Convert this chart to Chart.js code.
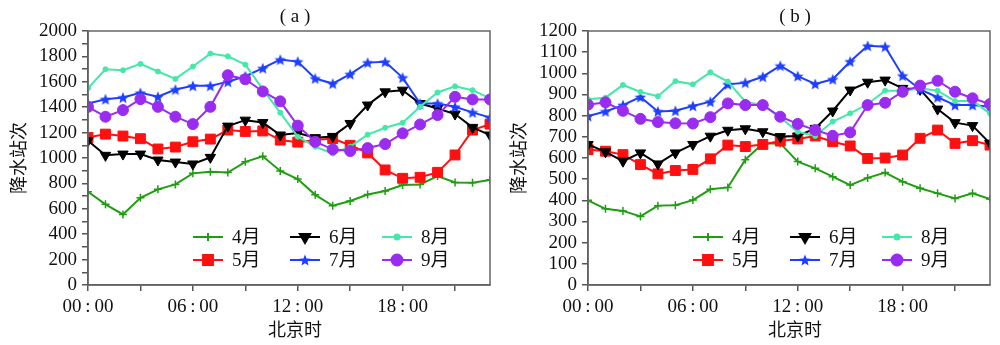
<!DOCTYPE html>
<html>
<head>
<meta charset="utf-8">
<script src="https://cdn.jsdelivr.net/npm/chart.js@4.4.0/dist/chart.umd.min.js"></script>
<style>
    html, body { margin: 0; padding: 0; background: #fff; }
    #wrap { width: 1000px; height: 345px; display: flex; }
    canvas { display: block; }
</style>
</head>
<body>
<div id="wrap">
    <canvas id="chartA" width="500" height="345"></canvas>
    <canvas id="chartB" width="500" height="345"></canvas>
</div>
<script>
// Hours of the day (Beijing time) and the tick labels shown on the x axis
const hours = [0, 1, 2, 3, 4, 5, 6, 7, 8, 9, 10, 11, 12, 13, 14, 15, 16, 17, 18, 19, 20, 21, 22, 23];
const xTickLabels = ['00\u2009:\u200900', '06\u2009:\u200900', '12\u2009:\u200900', '18\u2009:\u200900'];
const monthNames = ['4月', '5月', '6月', '7月', '8月', '9月'];

// Panel (a)
const a_apr = [734, 635, 556, 687, 753, 792, 879, 892, 885, 970, 1013, 898, 834, 710, 624, 661, 713, 740, 787, 792, 858, 808, 805, 826];
const a_may = [1162, 1188, 1173, 1152, 1071, 1086, 1128, 1149, 1220, 1209, 1213, 1141, 1125, 1142, 1153, 1100, 1040, 906, 840, 848, 887, 1024, 1220, 1267];
const a_jun = [1136, 1021, 1031, 1031, 984, 968, 953, 1005, 1251, 1298, 1279, 1181, 1197, 1160, 1170, 1272, 1417, 1521, 1534, 1429, 1390, 1346, 1241, 1181];
const a_jul = [1429, 1463, 1476, 1513, 1482, 1539, 1568, 1568, 1600, 1644, 1707, 1775, 1759, 1626, 1586, 1660, 1751, 1757, 1633, 1429, 1429, 1403, 1359, 1319];
const a_aug = [1550, 1699, 1691, 1741, 1681, 1623, 1720, 1822, 1801, 1735, 1540, 1357, 1168, 1089, 1035, 1089, 1184, 1238, 1277, 1403, 1516, 1565, 1534, 1469];
const a_sep = [1403, 1325, 1377, 1463, 1403, 1325, 1267, 1403, 1652, 1620, 1524, 1446, 1255, 1128, 1068, 1055, 1078, 1110, 1194, 1264, 1338, 1482, 1461, 1461];

// Panel (b)
const b_apr = [400, 360, 350, 324, 375, 377, 401, 452, 461, 592, 668, 669, 583, 551, 512, 472, 506, 531, 488, 457, 433, 409, 433, 406];
const b_may = [640, 632, 616, 569, 525, 541, 546, 596, 661, 654, 664, 680, 690, 704, 677, 657, 598, 600, 614, 693, 732, 669, 682, 661];
const b_jun = [664, 629, 585, 624, 572, 624, 664, 703, 731, 738, 724, 701, 704, 740, 822, 921, 958, 968, 929, 924, 831, 767, 753, 669];
const b_jul = [798, 820, 850, 888, 820, 823, 846, 866, 948, 956, 984, 1036, 987, 950, 972, 1056, 1130, 1126, 989, 924, 887, 850, 850, 842];
const b_aug = [877, 885, 945, 912, 892, 963, 948, 1005, 961, 866, 850, 792, 724, 704, 772, 811, 855, 918, 918, 929, 918, 869, 869, 811];
const b_sep = [852, 863, 823, 785, 770, 764, 763, 793, 858, 850, 850, 795, 761, 732, 705, 721, 850, 861, 913, 942, 965, 913, 882, 855];

// Filled five-point star used as the July marker
function makeStar(color, size) {
    const c = document.createElement('canvas');
    c.width = size;
    c.height = size;
    const g = c.getContext('2d');
    const r = size / 2, ri = r * 0.45;
    g.beginPath();
    for (let k = 0; k < 10; k++) {
        const rad = k % 2 === 0 ? r : ri;
        const ang = -Math.PI / 2 + k * Math.PI / 5;
        const px = r + rad * Math.cos(ang);
        const py = r + 0.6 + rad * Math.sin(ang);
        if (k === 0) g.moveTo(px, py); else g.lineTo(px, py);
    }
    g.closePath();
    g.fillStyle = color;
    g.fill();
    return c;
}

// Look of each month's series
const seriesStyles = [
    { color: '#1f9e12', pointStyle: 'cross', radius: 4, rotation: 0 },
    { color: '#ff1010', pointStyle: 'rect', radius: 7, rotation: 0 },
    { color: '#000000', pointStyle: 'triangle', radius: 6, rotation: 180 },
    { color: '#1f3fff', pointStyle: makeStar('#1f3fff', 12), radius: 6, rotation: 0 },
    { color: '#44e8a8', pointStyle: 'circle', radius: 2.5, rotation: 0 },
    { color: '#9a2cf0', pointStyle: 'circle', radius: 5.5, rotation: 0 }
];

const SERIF = '"Liberation Serif", "Noto Sans CJK SC", serif';
const CJK = '"Noto Sans CJK SC", sans-serif';

/**
 * Frame, panel label, axis titles and the in-plot legend
 */
const decorPlugin = {
    id: 'decor',
    afterDraw(chart, args, opts) {
        const ctx = chart.ctx;
        const a = chart.chartArea;
        const midX = (a.left + a.right) / 2;

        ctx.save();
        ctx.strokeStyle = '#666';
        ctx.lineWidth = 1.5;
        ctx.strokeRect(a.left, a.top, a.right - a.left, a.bottom - a.top);

        ctx.fillStyle = '#111';
        ctx.textAlign = 'center';
        ctx.textBaseline = 'middle';
        ctx.font = '19px ' + SERIF;
        ctx.fillText(opts.label, midX + 6, 17);

        ctx.font = '18px ' + CJK;
        ctx.fillText('北京时', midX + 6, 329);

        ctx.save();
        ctx.translate(18, (a.top + a.bottom) / 2);
        ctx.rotate(-Math.PI / 2);
        ctx.fillText('降水站次', 0, 0);
        ctx.restore();

        // Legend: three columns, two rows, filled column by column
        const colX = [105, 202, 294];
        const rowY = [206, 229];
        chart.data.datasets.forEach((ds, i) => {
            const x0 = a.left + colX[Math.floor(i / 2)];
            const y0 = a.top + rowY[i % 2];
            ctx.strokeStyle = ds.borderColor;
            ctx.fillStyle = ds.borderColor;
            ctx.lineWidth = 2;
            ctx.beginPath();
            ctx.moveTo(x0, y0);
            ctx.lineTo(x0 + 30, y0);
            ctx.stroke();
            Chart.helpers.drawPoint(ctx, {
                pointStyle: ds.pointStyle,
                radius: ds.pointRadius,
                rotation: ds.pointRotation,
                borderWidth: ds.pointBorderWidth
            }, x0 + 15, y0);
            ctx.fillStyle = '#111';
            ctx.textAlign = 'left';
            ctx.font = '19px ' + SERIF;
            ctx.fillText(ds.label, x0 + 39, y0 + 1);
        });
        ctx.restore();
    }
};

function buildPanel(canvasId, panelLabel, seriesList, yMax, yStep, yLabelStep) {
    const datasets = seriesList.map((values, i) => {
        const st = seriesStyles[i];
        return {
            label: monthNames[i],
            data: hours.map((h, k) => ({ x: h, y: values[k] })),
            borderColor: st.color,
            backgroundColor: st.color,
            borderWidth: 2,
            pointStyle: st.pointStyle,
            pointRadius: st.radius,
            pointRotation: st.rotation,
            pointBorderWidth: st.pointStyle === 'cross' ? 1.5 : 1,
            pointBorderColor: st.color,
            pointBackgroundColor: st.color,
            tension: 0,
            order: 6 - i
        };
    });

    const yTicks = [];
    for (let v = 0; v <= yMax; v += yStep) yTicks.push({ value: v });

    const ctx = document.getElementById(canvasId).getContext('2d');
    new Chart(ctx, {
        type: 'line',
        data: { datasets: datasets },
        plugins: [decorPlugin],
        options: {
            responsive: false,
            animation: false,
            events: [],
            layout: { padding: { left: 0, top: 31, right: 10, bottom: 0 } },
            plugins: {
                legend: { display: false },
                tooltip: { enabled: false },
                decor: { label: panelLabel }
            },
            scales: {
                x: {
                    type: 'linear',
                    min: 0,
                    max: 23,
                    afterFit: (scale) => { scale.height = 60; },
                    afterBuildTicks: (scale) => {
                        scale.ticks = [0, 3, 6, 9, 12, 15, 18, 21].map(v => ({ value: v }));
                    },
                    ticks: {
                        autoSkip: false,
                        maxRotation: 0,
                        padding: 5,
                        color: '#111',
                        font: { family: SERIF, size: 19 },
                        callback: (v) => (v % 6 === 0 ? xTickLabels[v / 6] : '')
                    },
                    grid: { drawOnChartArea: false, drawTicks: true, tickLength: 6, color: '#555', lineWidth: 1.5 },
                    border: { display: true, color: '#555', width: 1.5 }
                },
                y: {
                    min: 0,
                    max: yMax,
                    afterFit: (scale) => { scale.width = 88; },
                    afterBuildTicks: (scale) => { scale.ticks = yTicks; },
                    ticks: {
                        autoSkip: false,
                        padding: 5,
                        color: '#111',
                        font: { family: SERIF, size: 19 },
                        callback: (v) => (v % yLabelStep === 0 ? v : '')
                    },
                    grid: { drawOnChartArea: false, drawTicks: true, tickLength: 6, color: '#555', lineWidth: 1.5 },
                    border: { display: true, color: '#555', width: 1.5 }
                }
            }
        }
    });
}

buildPanel('chartA', '( a )', [a_apr, a_may, a_jun, a_jul, a_aug, a_sep], 2000, 100, 200);
buildPanel('chartB', '( b )', [b_apr, b_may, b_jun, b_jul, b_aug, b_sep], 1200, 100, 100);
</script>
</body>
</html>
